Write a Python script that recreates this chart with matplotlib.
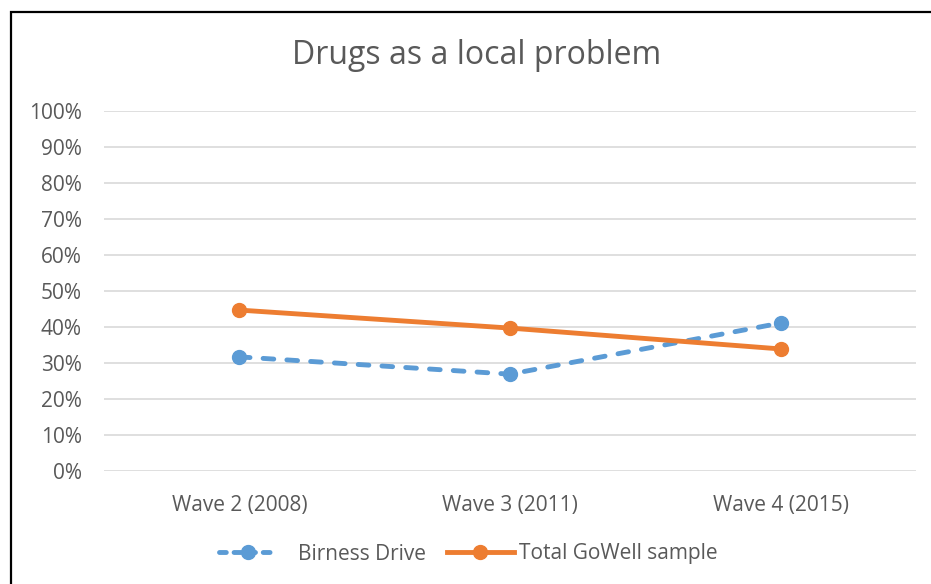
import matplotlib
matplotlib.use("Agg")
import matplotlib.pyplot as plt
from matplotlib.lines import Line2D
from matplotlib.patches import Rectangle
from matplotlib.ticker import MultipleLocator, PercentFormatter

plt.rcParams['font.family'] = ['Open Sans', 'DejaVu Sans']

waves = ["Wave 2 (2008)", "Wave 3 (2011)", "Wave 4 (2015)"]
birness_drive = [31.7, 26.9, 41.1]
total_gowell = [44.7, 39.7, 33.9]

BLUE = "#5B9BD5"
ORANGE = "#ED7D31"
TEXT = "#595959"
GRID = "#D9D9D9"
FS = 15

W, H = 931, 584
fig = plt.figure(figsize=(W / 100, H / 100), dpi=100)
ax = fig.add_axes([104 / W, 1 - 471 / H, (916 - 104) / W, (471 - 111) / H])

x = list(range(len(waves)))
ax.plot(x, birness_drive, color=BLUE, lw=3.5, marker="o", ms=10,
        dashes=(2.2, 2.7), dash_capstyle="round", label="Birness Drive", zorder=3)
ax.plot(x, total_gowell, color=ORANGE, lw=3.5, marker="o", ms=10,
        solid_capstyle="round", label="Total GoWell sample", zorder=3)

ax.set_xlim(-0.5, len(waves) - 0.5)
ax.set_ylim(0, 100)
ax.yaxis.set_major_locator(MultipleLocator(10))
ax.yaxis.set_major_formatter(PercentFormatter(decimals=0))
ax.set_xticks(x)
ax.set_xticklabels(waves)
ax.grid(axis="y", color=GRID, lw=1.2)
ax.set_axisbelow(True)
for s in ax.spines.values():
    s.set_visible(False)
ax.tick_params(length=0, labelsize=FS, labelcolor=TEXT)
ax.tick_params(axis="y", pad=16)
ax.tick_params(axis="x", pad=17)

fig.text(477 / W, 1 - 55 / H, "Drugs as a local problem", ha="center", va="center",
         fontsize=23, color=TEXT)

legend_y = 1 - 554 / H
blue_handle = Line2D([], [], color=BLUE, lw=3.5, marker="o", ms=10,
                     dashes=(1.4, 1.6), dash_capstyle="round")
orange_handle = Line2D([], [], color=ORANGE, lw=3.5, marker="o", ms=10)
common = dict(loc="center left", frameon=False, fontsize=FS, labelcolor=TEXT,
              borderpad=0, borderaxespad=0)
leg1 = fig.legend([blue_handle], ["Birness Drive"],
                  bbox_to_anchor=(219 / W, legend_y), handlelength=2.8,
                  handletextpad=1.0, **common)
leg2 = fig.legend([orange_handle], ["Total GoWell sample"],
                  bbox_to_anchor=(447 / W, legend_y), handlelength=3.2,
                  handletextpad=0.25, **common)

fig.patches.append(Rectangle((11 / W, -0.05), 1.1, (1 - 12 / H) + 0.05,
                             transform=fig.transFigure, fill=False,
                             edgecolor="black", lw=1.6))

fig.savefig("out.png", dpi=100)
